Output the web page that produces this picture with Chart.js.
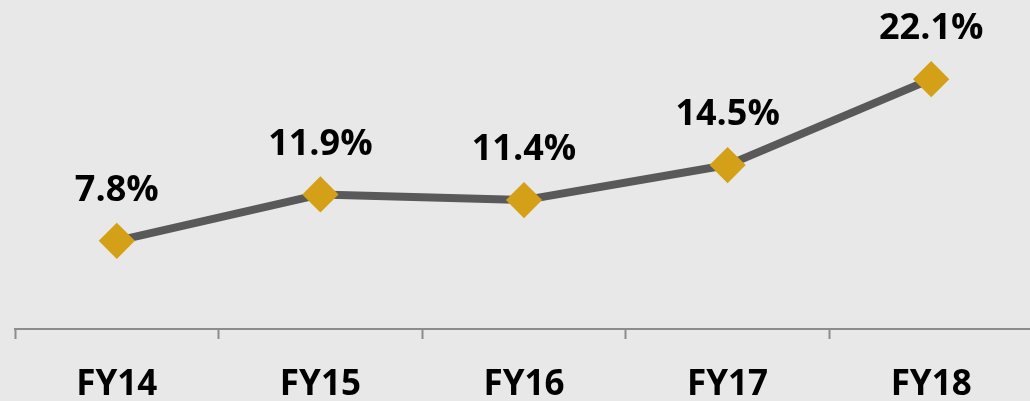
<!DOCTYPE html>
<html>
<head>
<meta charset="utf-8">
<script src="https://cdn.jsdelivr.net/npm/chart.js@4/dist/chart.umd.min.js"></script>
<style>
  html, body { margin: 0; padding: 0; background: #e8e8e8; overflow: hidden; }
  #wrap { width: 1030px; height: 401px; overflow: hidden; position: relative; }
  #box { width: 1033px; height: 431px; position: absolute; left: 0; top: 0; }
</style>
</head>
<body>
<div id="wrap"><div id="box"><canvas id="c"></canvas></div></div>
<script>
const categories = ['FY14', 'FY15', 'FY16', 'FY17', 'FY18'];
const values = [7.8, 11.9, 11.4, 14.5, 22.1];
const valueLabels = ['7.8%', '11.9%', '11.4%', '14.5%', '22.1%'];

const labelPlugin = {
  id: 'valueLabels',
  afterDatasetsDraw(chart) {
    const ctx = chart.ctx;
    const meta = chart.getDatasetMeta(0);
    ctx.save();
    ctx.font = 'bold 36px "Open Sans"';
    ctx.fillStyle = '#000000';
    ctx.textAlign = 'center';
    ctx.textBaseline = 'middle';
    meta.data.forEach((pt, i) => {
      ctx.fillText(valueLabels[i], pt.x, pt.y - 50);
    });
    ctx.restore();
  }
};

new Chart(document.getElementById('c'), {
  type: 'line',
  data: {
    labels: categories,
    datasets: [{
      data: values,
      borderColor: '#595959',
      borderWidth: 8,
      tension: 0,
      pointStyle: 'rectRot',
      pointRadius: 16,
      pointHoverRadius: 16,
      pointBackgroundColor: '#d4a017',
      pointBorderColor: '#d4a017',
      pointBorderWidth: 3,
      borderJoinStyle: 'round',
      clip: false
    }]
  },
  options: {
    responsive: true,
    maintainAspectRatio: false,
    animation: false,
    events: [],
    layout: { autoPadding: false, padding: { left: 15, right: 0, top: 0, bottom: 0 } },
    plugins: { legend: { display: false }, tooltip: { enabled: false } },
    scales: {
      x: {
        offset: true,
        grid: {
          offset: true,
          drawOnChartArea: false,
          drawTicks: true,
          tickLength: 10,
          tickWidth: 2,
          tickColor: '#8c8c8c'
        },
        border: { display: true, color: '#8c8c8c', width: 2 },
        ticks: {
          color: '#000000',
          font: { family: 'Open Sans', weight: 'bold', size: 35 },
          padding: 25,
          maxRotation: 0
        }
      },
      y: {
        display: false,
        min: 0,
        max: 29.1
      }
    }
  },
  plugins: [labelPlugin]
});
</script>
</body>
</html>
